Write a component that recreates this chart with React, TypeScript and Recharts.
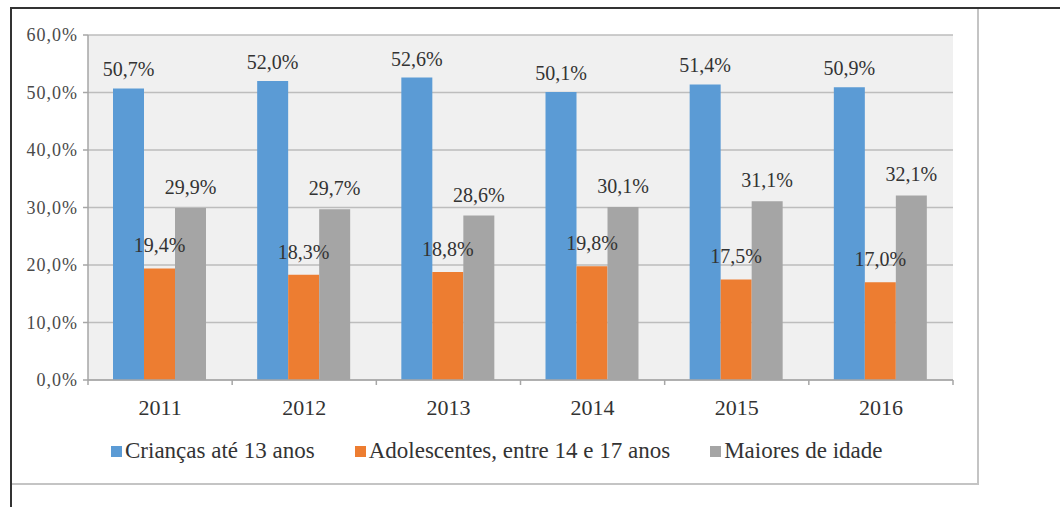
import React from 'react';
import {
  BarChart,
  Bar,
  XAxis,
  YAxis,
  CartesianGrid,
  LabelList,
} from 'recharts';

const years = ['2011', '2012', '2013', '2014', '2015', '2016'];
const criancas = [50.7, 52.0, 52.6, 50.1, 51.4, 50.9];
const adolescentes = [19.4, 18.3, 18.8, 19.8, 17.5, 17.0];
const maiores = [29.9, 29.7, 28.6, 30.1, 31.1, 32.1];
const yTicks = [0, 10, 20, 30, 40, 50, 60];

const seriesNames = ['Crianças até 13 anos', 'Adolescentes, entre 14 e 17 anos', 'Maiores de idade'];
const seriesColors = ['#5b9bd5', '#ed7d31', '#a5a5a5'];

const data = years.map((year, i) => ({
  year,
  criancas: criancas[i],
  adolescentes: adolescentes[i],
  maiores: maiores[i],
}));

const W = 1060;
const H = 507;
const margin = { top: 35, right: 107, bottom: 20, left: 0 };
const yAxisWidth = 88;
const serif = '"Liberation Serif", "Times New Roman", "DejaVu Serif", serif';
const halfCat = (W - margin.left - margin.right - yAxisWidth) / years.length / 2;

const fmt = (v: number) => v.toFixed(1).replace('.', ',') + '%';
const labelStyle = { fontFamily: serif, fontSize: 20, fill: '#333' };

const YearTick = (props: any) => {
  const { x, y, payload, index } = props;
  return (
    <g>
      <line x1={x - halfCat} y1={y} x2={x - halfCat} y2={y + 5} stroke="#a6a6a6" strokeWidth={1.5} />
      {index === years.length - 1 && (
        <line x1={x + halfCat} y1={y} x2={x + halfCat} y2={y + 5} stroke="#a6a6a6" strokeWidth={1.5} />
      )}
      <text x={x} y={y + 35} textAnchor="middle" fontFamily={serif} fontSize={22} fill="#333">
        {payload.value}
      </text>
    </g>
  );
};

export default function App() {
  return (
    <div style={{ position: 'absolute', left: 0, top: 0, width: W, height: H, background: '#fff' }}>
      {/* outer frame */}
      <div style={{ position: 'absolute', left: 10, top: 7, width: 1050, height: 2, background: '#333' }} />
      <div style={{ position: 'absolute', left: 10, top: 7, width: 2, height: 500, background: '#333' }} />
      <div style={{ position: 'absolute', left: 977, top: 9, width: 2, height: 476, background: '#c4c4c4' }} />
      <div style={{ position: 'absolute', left: 12, top: 483, width: 967, height: 2, background: '#c4c4c4' }} />

      <BarChart
        width={W}
        height={430}
        data={data}
        margin={margin}
        barCategoryGap={25}
        barGap={0}
        style={{ position: 'absolute', left: 0, top: 0 }}
      >
        <CartesianGrid vertical={false} stroke="#bdbdbd" strokeWidth={1.5} fill="#f0f0f0" />
        <XAxis
          dataKey="year"
          height={30}
          axisLine={{ stroke: '#a6a6a6', strokeWidth: 1.5 }}
          tickLine={false}
          tickSize={0}
          tickMargin={0}
          tick={<YearTick />}
          interval={0}
        />
        <YAxis
          width={yAxisWidth}
          domain={[0, 60]}
          ticks={yTicks}
          tickFormatter={fmt}
          axisLine={{ stroke: '#a6a6a6', strokeWidth: 1.5 }}
          tickLine={{ stroke: '#a6a6a6', strokeWidth: 1.5 }}
          tickSize={5}
          tickMargin={5}
          tick={{ fontFamily: serif, fontSize: 18, fill: '#4a4a4a', letterSpacing: 1 }}
        />
        <Bar dataKey="criancas" fill={seriesColors[0]} isAnimationActive={false}>
          <LabelList dataKey="criancas" position="top" offset={12} formatter={(v: any) => fmt(Number(v))}
            style={labelStyle} />
        </Bar>
        <Bar dataKey="adolescentes" fill={seriesColors[1]} isAnimationActive={false}>
          <LabelList dataKey="adolescentes" position="top" offset={16} formatter={(v: any) => fmt(Number(v))}
            style={labelStyle} />
        </Bar>
        <Bar dataKey="maiores" fill={seriesColors[2]} isAnimationActive={false}>
          <LabelList dataKey="maiores" position="top" offset={14} formatter={(v: any) => fmt(Number(v))}
            style={labelStyle} />
        </Bar>
      </BarChart>

      {/* legend */}
      <div
        style={{
          position: 'absolute',
          left: 111,
          top: 438,
          display: 'flex',
          alignItems: 'center',
          fontFamily: serif,
          fontSize: 23,
          color: '#333',
          whiteSpace: 'nowrap',
        }}
      >
        {seriesNames.map((name, i) => (
          <div key={name} style={{ display: 'flex', alignItems: 'center', marginRight: 40 }}>
            <span style={{ display: 'inline-block', width: 11, height: 11, background: seriesColors[i], marginRight: 3 }} />
            <span>{name}</span>
          </div>
        ))}
      </div>
    </div>
  );
}
